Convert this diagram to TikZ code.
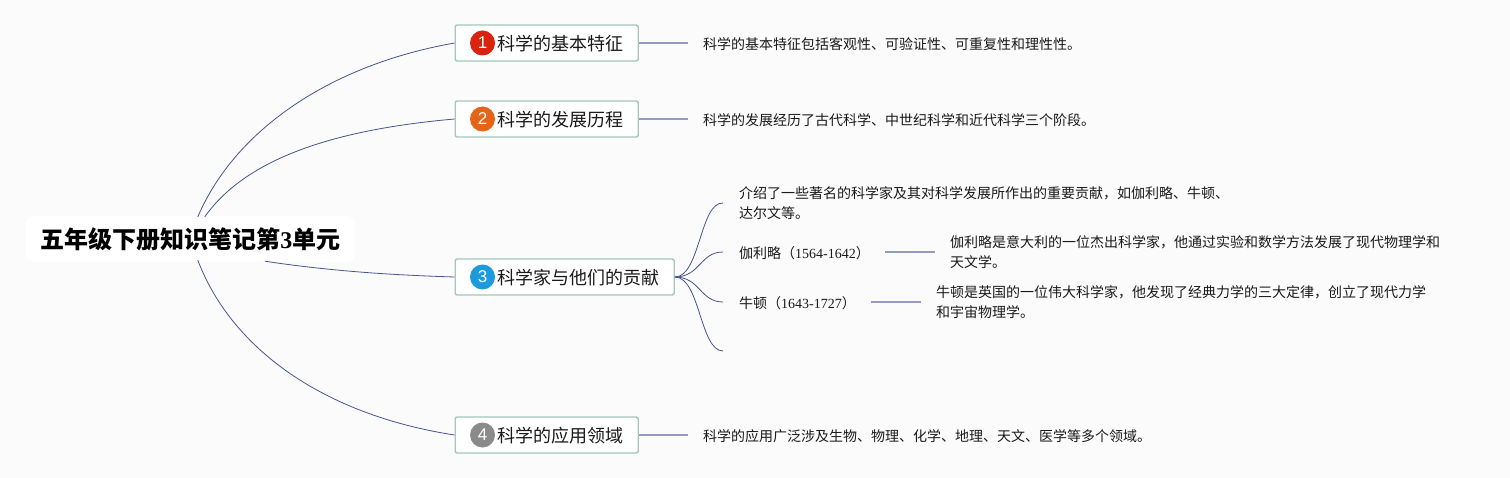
\documentclass[tikz,border=0pt]{standalone}
\usepackage{fontspec}
\setmainfont{Noto Sans CJK SC}
\newfontfamily\latfont{Liberation Serif}
\newfontfamily\numfont{Liberation Sans}
\newcommand{\lat}[1]{{\latfont #1}}
\usetikzlibrary{calc}
\definecolor{bgc}{HTML}{FBFBFC}
\definecolor{boxline}{HTML}{A3C7BC}
\definecolor{curvec}{HTML}{46558F}
\definecolor{stemc}{HTML}{929CC4}
\definecolor{txt}{HTML}{1A1A1A}
\definecolor{redc}{HTML}{D9230F}
\definecolor{orangec}{HTML}{E4651A}
\definecolor{bluec}{HTML}{1B9ADE}
\definecolor{greyc}{HTML}{8A8A8A}
\tikzset{
  x=1pt, y=-1pt,
  rootnode/.style={fill=white, rounded corners=8pt, minimum width=329pt, minimum height=46pt, inner sep=0pt,
    font=\fontsize{24pt}{28pt}\selectfont\bfseries, text=black,
    execute at begin node={\rule{0pt}{22.5pt}}},
  topic/.style={anchor=west, fill=white, draw=boxline, line width=1.4pt, rounded corners=2pt,
    minimum height=36pt, inner xsep=0pt, inner ysep=0pt, text=txt,
    font=\fontsize{18pt}{22pt}\selectfont,
    execute at begin node={\hspace*{42pt}\rule{0pt}{17.3pt}}, execute at end node={\hspace*{15pt}}},
  icon/.style={circle, minimum size=25pt, inner sep=0pt, text=white,
    font=\numfont\fontsize{17pt}{20pt}\selectfont},
  detail/.style={anchor=west, align=left, text=txt, inner xsep=15pt, inner ysep=0pt,
    font=\fontsize{14pt}{20pt}\selectfont,
    execute at begin node={\rule{0pt}{14pt}}},
  subnode/.style={anchor=west, align=left, text=txt, inner xsep=16pt, inner ysep=0pt,
    font=\fontsize{14pt}{20pt}\selectfont,
    execute at begin node={\rule{0pt}{14pt}}},
  curve/.style={draw=curvec, line width=0.8pt},
  stem/.style={draw=stemc, line width=1.5pt},
}
\begin{document}
\begin{tikzpicture}
\path[use as bounding box, fill=bgc] (0,0) rectangle (1510,478);

\node[rootnode] (root) at (190.5,239) {五年级下册知识笔记第\lat{3}单元};

\node[topic] (b1) at (454.5,43) {科学的基本特征};
\node[topic] (b2) at (454.5,119) {科学的发展历程};
\node[topic] (b3) at (454.5,277) {科学家与他们的贡献};
\node[topic] (b4) at (454.5,435) {科学的应用领域};

\node[icon, fill=redc] (i1) at ($(b1.west)+(28,0)$) {1};
\node[icon, fill=orangec] (i2) at ($(b2.west)+(28,0)$) {2};
\node[icon, fill=bluec] (i3) at ($(b3.west)+(28,0)$) {3};
\node[icon, fill=greyc] (i4) at ($(b4.west)+(28,0)$) {4};

\coordinate (r1) at ($(root.north west)+(172,1)$);
\coordinate (r2) at ($(root.north west)+(179,1)$);
\coordinate (r3) at ($(root.south west)+(239,-1)$);
\coordinate (r4) at ($(root.south west)+(172,-2)$);

\draw[curve] (r1) .. controls (235,130) and (330,65) .. (b1.west);
\draw[curve] (r2) .. controls (245,160) and (330,130) .. (b2.west);
\draw[curve] (r3) .. controls (330,271) and (390,275) .. (b3.west);
\draw[curve] (r4) .. controls (232,350) and (325,415) .. (b4.west);

\node[detail] (d1) at (688,43) {科学的基本特征包括客观性、可验证性、可重复性和理性性。};
\node[detail] (d2) at (688,119) {科学的发展经历了古代科学、中世纪科学和近代科学三个阶段。};
\node[detail] (d4) at (688,435) {科学的应用广泛涉及生物、物理、化学、地理、天文、医学等多个领域。};
\draw[stem] (b1.east) -- (d1.west);
\draw[stem] (b2.east) -- (d2.west);
\draw[stem] (b4.east) -- (d4.west);

\node[subnode] (s1) at (723,203) {介绍了一些著名的科学家及其对科学发展所作出的重要贡献，如伽利略、牛顿、\\达尔文等。};
\node[subnode, text width=130pt] (s2) at (723,252) {\mbox{伽利略（\lat{1564-1642}）}};
\node[subnode, text width=116pt] (s3) at (723,302) {\mbox{牛顿（\lat{1643-1727}）}};
\coordinate (s4) at (723,351);

\draw[curve] (b3.east) .. controls (700,277) and (700,202) .. (s1.west);
\draw[curve] (b3.east) .. controls (700,277) and (700,252) .. (s2.west);
\draw[curve] (b3.east) .. controls (700,277) and (700,302) .. (s3.west);
\draw[curve] (b3.east) .. controls (700,277) and (700,351) .. (s4);

\node[detail] (g1) at (935,252) {伽利略是意大利的一位杰出科学家，他通过实验和数学方法发展了现代物理学和\\天文学。};
\node[detail] (n1) at (921,302) {牛顿是英国的一位伟大科学家，他发现了经典力学的三大定律，创立了现代力学\\和宇宙物理学。};
\draw[stem] (s2.east) -- (g1.west);
\draw[stem] (s3.east) -- (n1.west);
\end{tikzpicture}
\end{document}
